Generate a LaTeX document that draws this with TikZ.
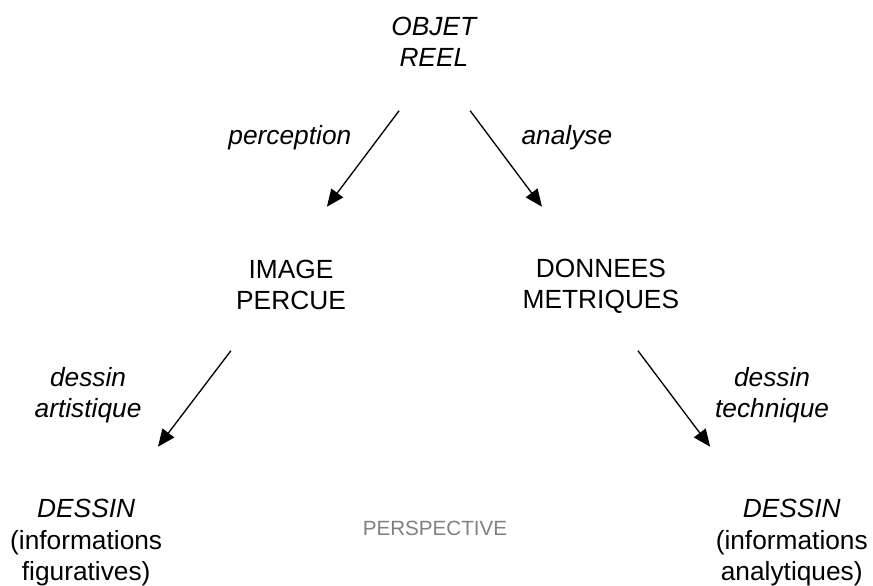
\documentclass[tikz,border=0pt]{standalone}
\usepackage{fontspec}
\setmainfont{Liberation Sans}
\usepackage{tikz}
\usepackage{xcolor}
\usetikzlibrary{arrows.meta,positioning,calc}
\definecolor{ink}{HTML}{000000}
\definecolor{faint}{HTML}{808080}

\begin{document}
\begin{tikzpicture}[font=\fontsize{19.8}{23.5}\selectfont,>={Triangle[length=13pt,width=11pt]},
    bloc/.style={align=center,inner sep=2pt,text=ink},
    etiq/.style={bloc,font=\fontsize{19.8}{23.5}\selectfont\itshape},
    fleche/.style={->,line width=1pt,draw=ink}]
  \useasboundingbox (0,0) rectangle (23.10,15.50);

  \node[etiq] (objet) at (11.48,14.39) {OBJET\\REEL};
  \node[bloc] (image) at (7.70,7.95) {IMAGE\\PERCUE};
  \node[bloc] (donnees) at (15.90,7.93) {DONNEES\\METRIQUES};
  \node[bloc] (dessinA) at (2.28,1.14) {\textit{DESSIN}\\(informations\\figuratives)};
  \node[bloc] (dessinT) at (20.95,1.14) {\textit{DESSIN}\\(informations\\analytiques)};
  \node[bloc,font=\fontsize{15.5}{19}\selectfont,text=faint] (persp) at (11.51,1.51) {PERSPECTIVE};

  \node[etiq] (perception) at (7.67,11.85) {perception};
  \node[etiq] (analyse) at (15.00,11.85) {analyse};
  \node[etiq] (artistique) at (2.33,5.05) {dessin\\artistique};
  \node[etiq] (technique) at (20.43,5.05) {dessin\\technique};

  \draw[fleche] ([shift={(-0.92,-1.82)}]objet.center) -- ([shift={(0.95,2.08)}]image.center);
  \draw[fleche] ([shift={(0.96,-1.82)}]objet.center) -- ([shift={(-1.56,2.10)}]donnees.center);
  \draw[fleche] ([shift={(-1.59,-1.73)}]image.center) -- ([shift={(1.90,2.54)}]dessinA.center);
  \draw[fleche] ([shift={(0.98,-1.71)}]donnees.center) -- ([shift={(-2.16,2.54)}]dessinT.center);
\end{tikzpicture}
\end{document}
